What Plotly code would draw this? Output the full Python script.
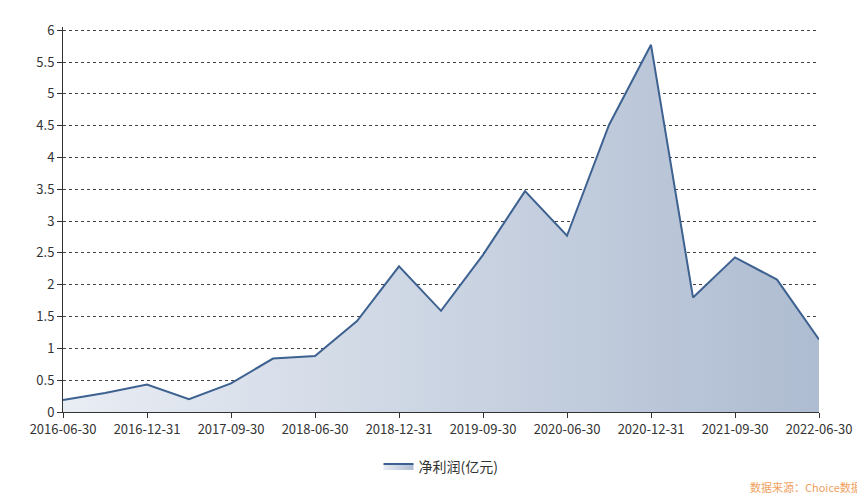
import plotly.graph_objects as go

dates = ["2016-06-30","2016-09-30","2016-12-31","2017-06-30","2017-09-30","2018-03-31",
         "2018-06-30","2018-09-30","2018-12-31","2019-06-30","2019-09-30","2020-03-31",
         "2020-06-30","2020-09-30","2020-12-31","2021-06-30","2021-09-30","2022-03-31","2022-06-30"]
profit = [0.19,0.30,0.43,0.20,0.45,0.84,0.88,1.43,2.29,1.59,2.47,3.47,2.77,4.51,5.77,1.80,2.43,2.08,1.14]
tick_labels = dates[::2]
y_ticks = [0,0.5,1,1.5,2,2.5,3,3.5,4,4.5,5,5.5,6]

fig = go.Figure(go.Scatter(
    x=dates, y=profit, mode="lines", name="净利润(亿元)",
    line=dict(color="#3d6190", width=2),
    fill="tozeroy",
    fillgradient=dict(type="horizontal", colorscale=[[0,"#e9edf4"],[1,"#aebcd1"]]),
))
fig.update_layout(
    width=865, height=495, paper_bgcolor="white", plot_bgcolor="white",
    margin=dict(l=55, r=54, t=14, b=91),
    font=dict(family="Noto Sans CJK SC, DejaVu Sans", size=13, color="#333"),
    showlegend=True,
    legend=dict(orientation="h", x=0.5, xanchor="center", y=-0.1, yanchor="top",
                font=dict(size=14)),
    xaxis=dict(type="category", tickvals=tick_labels, ticktext=tick_labels,
               showgrid=False, showline=True, linecolor="#333", ticks="outside",
               ticklen=5, tickcolor="#333", range=[0, len(dates)-1], tickangle=0),
    yaxis=dict(range=[0, 6.05], tickvals=y_ticks, ticktext=[f"{v:g}" for v in y_ticks],
               showgrid=True, gridcolor="#444", griddash="dot", gridwidth=1,
               showline=True, linecolor="#333", ticks="outside", ticklen=5,
               tickcolor="#333", zeroline=False),
    annotations=[dict(text="数据来源：Choice数据", x=1.06, xref="paper", xanchor="right",
                      y=-0.22, yref="paper", yanchor="bottom", showarrow=False,
                      font=dict(size=11, color="#f0a060"))],
)
fig.write_html("out.html")
